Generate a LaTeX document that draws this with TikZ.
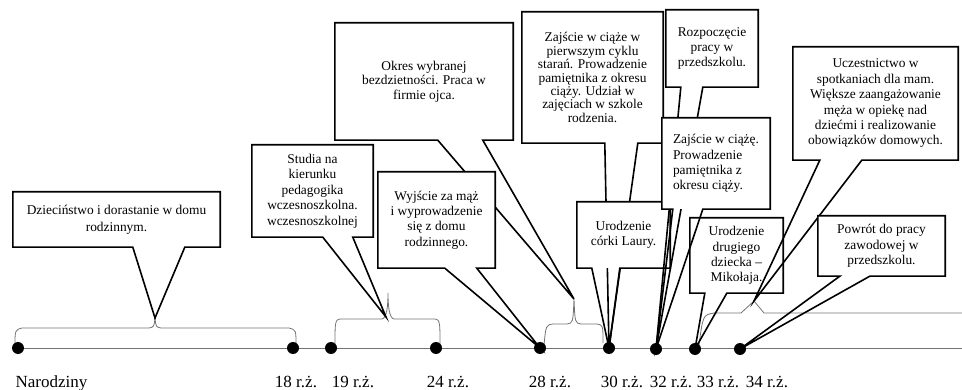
\documentclass[tikz,border=0pt]{standalone}
\usepackage{fontspec}
\setmainfont{Liberation Serif}
\usetikzlibrary{positioning}
\tikzset{
  box/.style={rectangle, fill=white, inner sep=0pt, align=center,
              font=\fontsize{13.4}{15.4}\selectfont},
  callout/.style={draw, line width=1.6pt, line join=miter},
  evt/.style={circle, fill=black, inner sep=0pt, minimum size=12pt},
  yr/.style={anchor=base, font=\fontsize{17}{20}\selectfont},
  brc/.style={draw=black!55, line width=0.8pt},
  axis/.style={draw=black!55, line width=0.9pt}
}

\begin{document}
\begin{tikzpicture}[x=1pt, y=-1pt]
  \useasboundingbox (0,0) rectangle (962,390);

  % time axis and braces
  \draw[axis] (18,348) -- (962,348);
  \draw[brc] (15,346) .. controls (15,330) .. (22,328) -- (149,328)
    .. controls (154,327) .. (155,318) coordinate (br1)
    .. controls (156,327) .. (161,328) -- (289,328) .. controls (296,330) .. (296,345);
  \draw[brc] (335,345) .. controls (335,319) .. (343,319) -- (382,319)
    .. controls (387,318) and (388,305) .. (388,293)
    .. controls (388,305) and (389,318) .. (394,319) -- (432,319) .. controls (440,319) .. (440,345);
  \coordinate (br2) at (386,317);
  \draw[brc] (544,345) .. controls (546,325) .. (553,324) -- (567,324)
    .. controls (573,323) .. (574,299) coordinate (br3)
    .. controls (575,323) .. (581,324) -- (597,324) .. controls (603,325) .. (603,343);
  \draw[brc] (699,345) .. controls (703,315) .. (714,313) -- (741,313)
    -- (754,301) coordinate (br4) -- (764,313) -- (962,313);

  % events
  \node[evt] (d0) at (18,348) {};
  \node[evt] (d18) at (293,348) {};
  \node[evt] (d19) at (331,348) {};
  \node[evt] (d24) at (436,348) {};
  \node[evt] (d28) at (540,348) {};
  \node[evt] (d30) at (609,348) {};
  \node[evt] (d32) at (656,349) {};
  \node[evt] (d33) at (695,349) {};
  \node[evt] (d34) at (740,349) {};

  \node[yr, anchor=base west] (lbirth) at (12,388) {Narodziny};
  \node[yr] (l18) at (296,388) {18 r.ż.};
  \node[yr] (l19) at (353,388) {19 r.ż.};
  \node[yr] (l24) at (448,388) {24 r.ż.};
  \node[yr] (l28) at (550,388) {28 r.ż.};
  \node[yr] (l30) at (622,388) {30 r.ż.};
  \node[yr] (l32) at (671,388) {32 r.ż.};
  \node[yr] (l33) at (718,388) {33 r.ż.};
  \node[yr] (l34) at (767,388) {34 r.ż.};

  % callouts
  \node[box, minimum width=207pt, minimum height=55pt, font=\fontsize{13.4}{17}\selectfont]
    (childhood) at (116.5,219.5) {Dzieciństwo i dorastanie w domu\\rodzinnym.};
  \draw[callout] ([xshift=120pt]childhood.south west) -- (childhood.south west)
    |- (childhood.north east) |- ([xshift=172pt]childhood.south west) -- (br1) -- cycle;

  \node[box, minimum width=121pt, minimum height=92pt] (studies) at (312.5,191)
    {Studia na\\kierunku\\pedagogika\\wczesnoszkolna.\\wczesnoszkolnej};
  \draw[callout] ([xshift=71pt]studies.south west) -- (studies.south west)
    |- (studies.north east) |- ([xshift=101pt]studies.south west) -- (br2) -- cycle;

  \node[box, minimum width=178pt, minimum height=117pt, font=\fontsize{13.4}{14.7}\selectfont]
    (childless) at (424,81.5) {Okres wybranej\\bezdzietności. Praca w\\firmie ojca.};
  \draw[callout] ([xshift=103pt]childless.south west) -- (childless.south west)
    |- (childless.north east) |- ([xshift=148pt]childless.south west) -- (br3) -- cycle;

  \node[box, minimum width=117pt, minimum height=96pt] (marriage) at (436.5,220)
    {Wyjście za mąż\\i wyprowadzenie\\się z domu\\rodzinnego.};
  \draw[callout] ([xshift=67pt]marriage.south west) -- (marriage.south west)
    |- (marriage.north east) |- ([xshift=99pt]marriage.south west) -- (d28.center) -- cycle;

  \node[box, minimum width=141pt, minimum height=131pt, font=\fontsize{13.4}{13.4}\selectfont]
    (preg1) at (592.5,77.5) {Zajście w ciąże w\\pierwszym cyklu\\starań. Prowadzenie\\pamiętnika z okresu\\ciąży. Udział w\\zajęciach w szkole\\rodzenia.};
  \draw[callout] ([xshift=83pt]preg1.south west) -- (preg1.south west)
    |- (preg1.north east) |- ([xshift=116pt]preg1.south west) -- (d30.center) -- cycle;

  \node[box, minimum width=93pt, minimum height=66pt] (daughter) at (623.5,235)
    {Urodzenie\\córki Laury.};
  \draw[callout] ([xshift=15pt]daughter.south west) -- (daughter.south west)
    |- (daughter.north east) |- ([xshift=43pt]daughter.south west) -- (d30.center) -- cycle;

  \node[box, minimum width=92pt, minimum height=77pt] (work) at (712,48.5)
    {Rozpoczęcie\\pracy w\\przedszkolu.};
  \draw[callout] ([xshift=15pt]work.south west) -- (work.south west)
    |- (work.north east) |- ([xshift=37pt]work.south west) -- (d32.center) -- cycle;

  \node[box, minimum width=93pt, minimum height=75pt] (son) at (736.5,255.5)
    {Urodzenie\\drugiego\\dziecka --\\Mikołaja.};
  \draw[callout] ([xshift=15pt]son.south west) -- (son.south west)
    |- (son.north east) |- ([xshift=37pt]son.south west) -- (d33.center) -- cycle;

  \node[box, align=left, minimum width=108pt, minimum height=91pt] (preg2) at (716,163.5)
    {Zajście w ciążę.\\Prowadzenie\\pamiętnika z\\okresu ciąży.};
  \draw[callout] ([xshift=11pt]preg2.south west) -- (preg2.south west)
    |- (preg2.north east) |- ([xshift=41pt]preg2.south west) -- (d32.center) -- cycle;

  \node[box, minimum width=165pt, minimum height=113pt] (moms) at (875.5,103.5)
    {Uczestnictwo w\\spotkaniach dla mam.\\Większe zaangażowanie\\męża w opiekę nad\\dziećmi i realizowanie\\obowiązków domowych.};
  \draw[callout] ([xshift=27pt]moms.south west) -- (moms.south west)
    |- (moms.north east) |- ([xshift=69pt]moms.south west) -- (br4) -- cycle;

  \node[box, minimum width=127pt, minimum height=60pt] (return) at (881.5,246)
    {Powrót do pracy\\zawodowej w\\przedszkolu.};
  \draw[callout] ([xshift=22pt]return.south west) -- (return.south west)
    |- (return.north east) |- ([xshift=52pt]return.south west) -- (d34.center) -- cycle;
\end{tikzpicture}
\end{document}
